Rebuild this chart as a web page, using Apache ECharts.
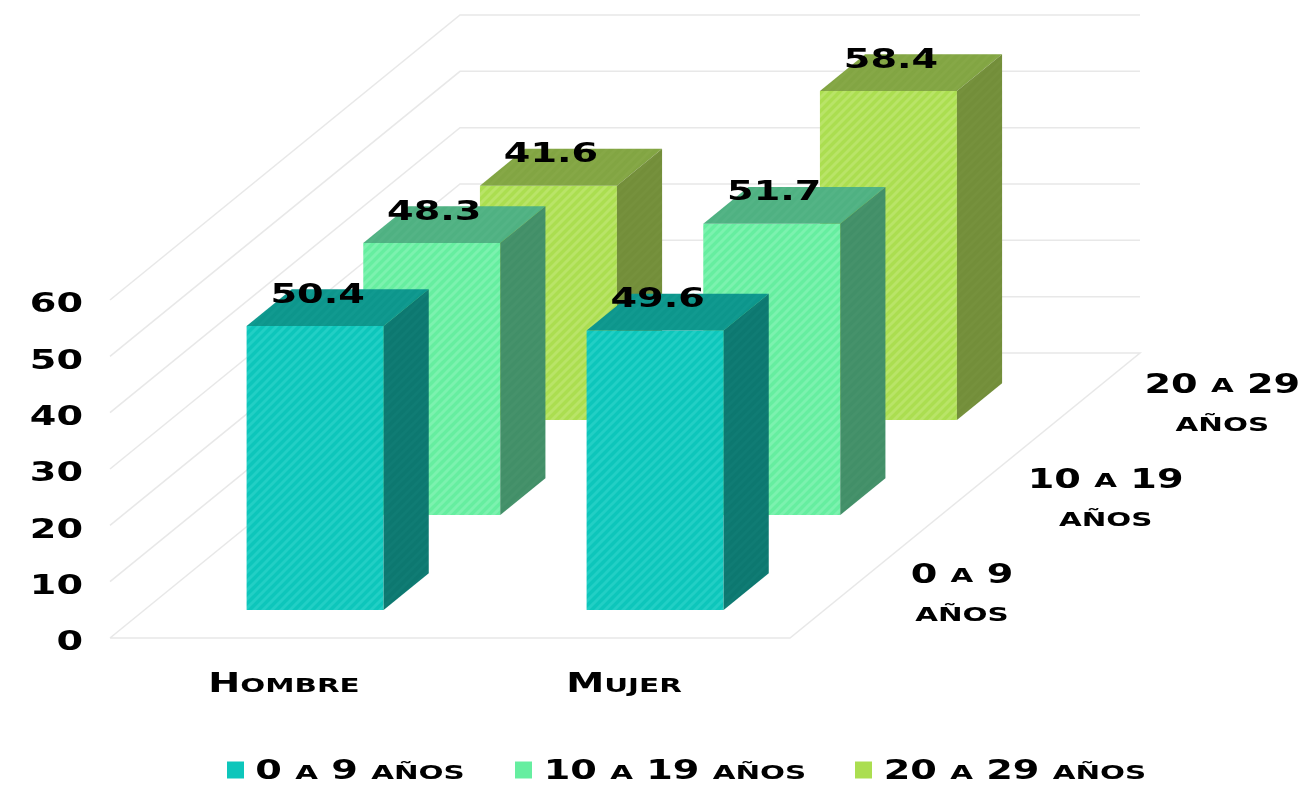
<!DOCTYPE html>
<html>
<head>
<meta charset="utf-8">
<style>html,body{margin:0;padding:0;background:#fff}#chart{width:1306px;height:787px}</style>
<script src="https://cdn.jsdelivr.net/npm/echarts@6/dist/echarts.min.js"></script>
</head>
<body>
<div id="chart"></div>
<script>
// Table values by sex and age group
const categories = ['Hombre', 'Mujer'];
const ageGroups = ['0 a 9 años', '10 a 19 años', '20 a 29 años'];
const values0to9 = [50.4, 49.6];
const values10to19 = [48.3, 51.7];
const values20to29 = [41.6, 58.4];
const valueTicks = [0, 10, 20, 30, 40, 50, 60];

// Oblique projection of the floor and the bar depth
const FLOOR_DX = 350, FLOOR_DY = 285;
const LAYER_START = 0.0983, LAYER_STEP = 1 / 3, LAYER_DEPTH = 0.129;
const BAR_WIDTH = 137;
const DEPTH_LABEL_DX = [115, 142, 142];
const FONT = '"DejaVu Sans"';
const STRETCH = 1.47;
const INK = '#141414';
const LEGEND_SLOT = [222, 274, 274];
const LEGEND_TEXT_X = [360, 675, 1015];

const palette = [
  { front: '#0DC6BB', stripe: '#22CFC5', top: '#0D968C', topStripe: '#119A90', side: '#0D7870', sideStripe: '#107C74' },
  { front: '#66EEA0', stripe: '#7CF2AF', top: '#4FB182', topStripe: '#54B486', side: '#428F68', sideStripe: '#46926B' },
  { front: '#ABDE50', stripe: '#B9E468', top: '#82A543', topStripe: '#86A847', side: '#738E3A', sideStripe: '#76913D' }
];

function stripes(base, line) {
  const size = 9, c = document.createElement('canvas');
  c.width = c.height = size;
  const g = c.getContext('2d');
  g.fillStyle = base;
  g.fillRect(0, 0, size, size);
  g.strokeStyle = line;
  g.lineWidth = 3;
  [[-size, size, size, -size], [0, size, size, 0], [0, size * 2, size * 2, 0]].forEach(function (s) {
    g.beginPath();
    g.moveTo(s[0], s[1]);
    g.lineTo(s[2], s[3]);
    g.stroke();
  });
  return { image: c, repeat: 'repeat' };
}

// Small-caps text: capitals and digits stay large, lowercase letters become small capitals
function smallCaps(text) {
  return text.replace(/[a-zñ]+/g, function (run) {
    return '{s|' + run.toUpperCase() + '}';
  }).replace(/[0-9A-Z.]+(?![^{]*\})/g, function (run) {
    return '{d|' + run + '}';
  }).replace(/ /g, '{d| }');
}
const textRich = {
  d: { fontFamily: FONT, fontWeight: 'bold', fontSize: 26, color: INK, verticalAlign: 'bottom', lineHeight: 30 },
  s: { fontFamily: FONT, fontWeight: 'bold', fontSize: 20, color: INK, verticalAlign: 'bottom', lineHeight: 30, padding: [0, 0, 2, 0] }
};
function stretchedText(text, x, y, align) {
  return {
    type: 'text', x: x, y: y + 1.5, scaleX: STRETCH, z2: 10, silent: true,
    style: { text: smallCaps(text), rich: textRich, align: align || 'center', verticalAlign: 'middle' }
  };
}

function depthOf(layer) { return LAYER_START + layer * LAYER_STEP; }

function barSeries(layer, values) {
  const col = palette[layer];
  const frontFill = stripes(col.front, col.stripe);
  const topFill = stripes(col.top, col.topStripe);
  const sideFill = stripes(col.side, col.sideStripe);
  return {
    type: 'custom',
    name: ageGroups[layer],
    coordinateSystem: 'cartesian2d',
    itemStyle: { color: col.front },
    clip: false,
    encode: { x: 0, y: 1 },
    z: 5 - layer,
    data: values.map(function (v, i) { return [i, v]; }),
    renderItem: function (params, api) {
      const base = api.coord([api.value(0), 0]);
      const head = api.coord([api.value(0), api.value(1)]);
      const d = depthOf(layer);
      const x0 = base[0] + d * FLOOR_DX - BAR_WIDTH / 2 + 0.7;
      const x1 = x0 + BAR_WIDTH;
      const yb = base[1] - d * FLOOR_DY;
      const yt = head[1] - d * FLOOR_DY;
      const ox = LAYER_DEPTH * FLOOR_DX, oy = LAYER_DEPTH * FLOOR_DY;
      return {
        type: 'group',
        children: [
          { type: 'polygon', shape: { points: [[x0, yb], [x1, yb], [x1, yt], [x0, yt]] }, style: { fill: frontFill } },
          { type: 'polygon', shape: { points: [[x0, yt], [x1, yt], [x1 + ox, yt - oy], [x0 + ox, yt - oy]] }, style: { fill: topFill } },
          { type: 'polygon', shape: { points: [[x1, yb], [x1 + ox, yb - oy], [x1 + ox, yt - oy], [x1, yt]] }, style: { fill: sideFill } },
          stretchedText(String(api.value(1)), (x0 + x1) / 2 + 2.5, yt - 33.5)
        ]
      };
    }
  };
}

// Wall grid lines with their tick labels, plus the floor outline
const wallSeries = {
  type: 'custom',
  silent: true,
  clip: false,
  z: 1,
  encode: { x: 0, y: 1 },
  data: valueTicks.map(function (t) { return [0, t]; }),
  renderItem: function (params, api) {
    const left = params.coordSys.x, right = left + params.coordSys.width;
    const y = api.coord([0, api.value(1)])[1];
    const pts = [[left, y], [left + FLOOR_DX, y - FLOOR_DY], [right + FLOOR_DX, y - FLOOR_DY]];
    if (api.value(1) === 0) pts.push([right, y], [left, y]);
    return {
      type: 'group',
      children: [
        { type: 'polyline', shape: { points: pts }, style: { fill: 'none', stroke: '#E8E8E8', lineWidth: 1.5 } },
        stretchedText(String(api.value(1)), left - 27, y + 2, 'right')
      ]
    };
  }
};

// Category captions under the floor
const categoryLabelSeries = {
  type: 'custom',
  silent: true,
  clip: false,
  z: 6,
  encode: { x: 0, y: 1 },
  data: categories.map(function (c, i) { return [i, 0]; }),
  renderItem: function (params, api) {
    const p = api.coord([api.value(0), 0]);
    return stretchedText(categories[api.value(0)], p[0] + 4, p[1] + 44);
  }
};

// Depth-axis captions along the right edge of the floor
const depthLabelSeries = {
  type: 'custom',
  silent: true,
  clip: false,
  z: 6,
  encode: { x: 0, y: 1 },
  data: ageGroups.map(function (g, i) { return [1, 0, i]; }),
  renderItem: function (params, api) {
    const layer = api.value(2);
    const right = params.coordSys.x + params.coordSys.width;
    const y = api.coord([1, 0])[1];
    const d = depthOf(layer) + LAYER_DEPTH / 2;
    const cx = right + d * FLOOR_DX + DEPTH_LABEL_DX[layer];
    const cy = y - d * FLOOR_DY;
    const words = ageGroups[layer].split(' ');
    return {
      type: 'group',
      children: [
        stretchedText(words.slice(0, 3).join(' '), cx, cy - 19),
        stretchedText(words[3], cx, cy + 20)
      ]
    };
  }
};

function legendSlot(width) {
  return { fontFamily: FONT, fontSize: 10, lineHeight: 20, height: 20, align: 'center', width: width, color: 'transparent' };
}

const chart = echarts.init(document.getElementById('chart'));
chart.setOption({
  animation: false,
  backgroundColor: '#fff',
  textStyle: { fontFamily: FONT },
  grid: { left: 110, top: 300, width: 680, height: 338, containLabel: false },
  xAxis: {
    type: 'category',
    data: categories,
    axisLine: { show: false },
    axisTick: { show: false },
    axisLabel: { show: false }
  },
  yAxis: {
    type: 'value',
    min: 0,
    max: 60,
    interval: 10,
    axisLine: { show: false },
    axisTick: { show: false },
    axisLabel: { show: false },
    splitLine: { show: false }
  },
  // Swatches come from the legend; each slot is left open for the wide caption on top of it
  legend: {
    left: 227,
    top: 760,
    padding: 0,
    icon: 'rect',
    itemWidth: 17,
    itemHeight: 17,
    itemGap: 44,
    selectedMode: false,
    data: ageGroups,
    formatter: function (n) { return '{' + ['a', 'b', 'c'][ageGroups.indexOf(n)] + '| }'; },
    textStyle: {
      rich: { a: legendSlot(LEGEND_SLOT[0]), b: legendSlot(LEGEND_SLOT[1]), c: legendSlot(LEGEND_SLOT[2]) }
    }
  },
  graphic: ageGroups.map(function (g, i) {
    return stretchedText(g, LEGEND_TEXT_X[i], 769);
  }),
  series: [
    wallSeries,
    barSeries(2, values20to29),
    barSeries(1, values10to19),
    barSeries(0, values0to9),
    categoryLabelSeries,
    depthLabelSeries
  ]
});
</script>
</body>
</html>
